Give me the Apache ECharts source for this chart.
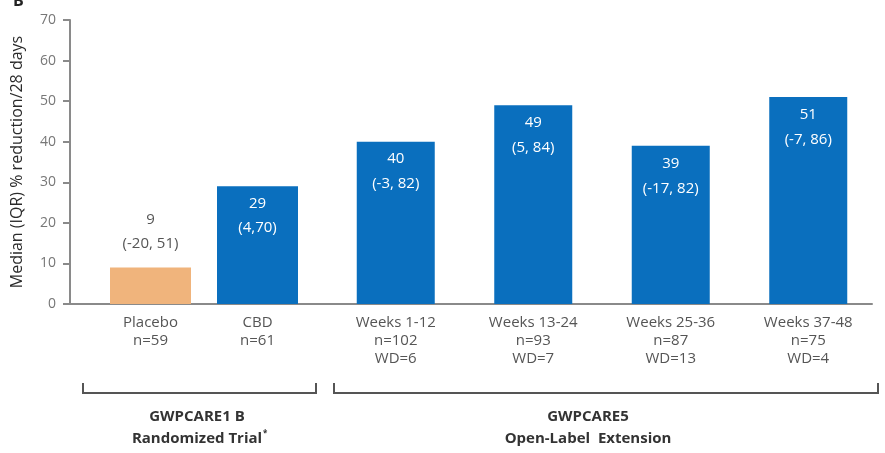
<!DOCTYPE html>
<html>
<head>
<meta charset="utf-8">
<script src="https://cdn.jsdelivr.net/npm/echarts@6/dist/echarts.min.js"></script>
<style>html,body{margin:0;padding:0;background:#fff}#c{width:885px;height:453px}</style>
</head>
<body>
<div id="c"></div>
<script>
// Randomized trial arms
const trialCats = ['Placebo\nn=59', 'CBD\nn=61'];
const trialMedian = [9, 29];
const trialIQR = ['(-20, 51)', '(4,70)'];

// Open-label extension windows
const oleCats = ['Weeks 1-12\nn=102\nWD=6', 'Weeks 13-24\nn=93\nWD=7', 'Weeks 25-36\nn=87\nWD=13', 'Weeks 37-48\nn=75\nWD=4'];
const oleMedian = [40, 49, 39, 51];
const oleIQR = ['(-3, 82)', '(5, 84)', '(-17, 82)', '(-7, 86)'];

const yTicks = [0, 10, 20, 30, 40, 50, 60, 70];

const FONT = '"Open Sans", sans-serif';
const BLUE = '#0A6FBE';
const ORANGE = '#F0B47C';
const AXIS = '#8a8a8a';
const TEXT = '#555';

const chart = echarts.init(document.getElementById('c'));

const hiddenY = i => ({
  type: 'value', gridIndex: i, min: yTicks[0], max: yTicks[yTicks.length - 1], interval: 10,
  show: false, splitLine: { show: false }
});
const catX = (i, cats) => ({
  type: 'category', gridIndex: i, data: cats,
  axisLine: { show: false }, axisTick: { show: false },
  axisLabel: { color: TEXT, fontSize: 15, fontFamily: FONT, lineHeight: 18, margin: 10, interval: 0 }
});

chart.setOption({
  animation: false,
  grid: [
    { left: 70, right: 13, top: 20, bottom: 149 },
    { left: 97, width: 214, top: 20, bottom: 149 },
    { left: 327, width: 550, top: 20, bottom: 149 }
  ],
  xAxis: [
    { type: 'category', gridIndex: 0, data: [''], axisTick: { show: false }, axisLabel: { show: false },
      axisLine: { lineStyle: { color: AXIS, width: 2 } } },
    catX(1, trialCats),
    catX(2, oleCats)
  ],
  yAxis: [
    { type: 'value', gridIndex: 0, min: yTicks[0], max: yTicks[yTicks.length - 1], interval: 10,
      name: 'Median (IQR) % reduction/28 days', nameLocation: 'middle', nameGap: 45,
      nameTextStyle: { color: '#2a2a2a', fontSize: 16, fontFamily: FONT },
      axisLine: { show: true, lineStyle: { color: AXIS, width: 2 } },
      axisTick: { show: true, length: 7, lineStyle: { color: AXIS, width: 2 } },
      axisLabel: { color: '#777', fontSize: 14, fontFamily: FONT, margin: 14 },
      splitLine: { show: false } },
    hiddenY(1),
    hiddenY(2)
  ],
  series: [
    {
      type: 'bar', xAxisIndex: 1, yAxisIndex: 1, barWidth: 81,
      data: trialMedian.map((v, i) => ({
        value: v,
        itemStyle: { color: i === 0 ? ORANGE : BLUE },
        label: i === 0
          ? { show: true, position: 'top', distance: 12, color: TEXT, formatter: v + '\n' + trialIQR[i] }
          : { show: true, position: 'insideTop', distance: 5, color: '#fff', formatter: v + '\n' + trialIQR[i] }
      })),
      label: { fontSize: 15, fontFamily: FONT, lineHeight: 24 }
    },
    {
      type: 'bar', xAxisIndex: 2, yAxisIndex: 2, barWidth: 78,
      itemStyle: { color: BLUE },
      data: oleMedian,
      label: {
        show: true, position: 'insideTop', distance: 5, color: '#fff', fontSize: 15, fontFamily: FONT, lineHeight: 25,
        formatter: p => p.value + '\n' + oleIQR[p.dataIndex]
      }
    }
  ],
  graphic: [
    { type: 'text', left: 13, top: -7, style: { text: 'B', fontSize: 16, fontWeight: 'bold', fontFamily: FONT, fill: '#222' } },
    // study brackets
    { type: 'polyline', shape: { points: [[83, 383], [83, 393], [316, 393], [316, 383]] },
      style: { stroke: '#555', lineWidth: 2, fill: null } },
    { type: 'polyline', shape: { points: [[334, 383], [334, 393], [878, 393], [878, 383]] },
      style: { stroke: '#555', lineWidth: 2, fill: null } },
    { type: 'text', x: 197, y: 417, style: { text: 'GWPCARE1 B', align: 'center', verticalAlign: 'middle',
      fontSize: 15, fontWeight: 'bold', fontFamily: FONT, fill: '#333' } },
    { type: 'text', x: 197, y: 439, style: { text: 'Randomized Trial', align: 'center', verticalAlign: 'middle',
      fontSize: 15, fontWeight: 'bold', fontFamily: FONT, fill: '#333' } },
    { type: 'text', x: 263, y: 434, style: { text: '*', align: 'left', verticalAlign: 'middle',
      fontSize: 8, fontWeight: 'bold', fontFamily: FONT, fill: '#333' } },
    { type: 'text', x: 588, y: 417, style: { text: 'GWPCARE5', align: 'center', verticalAlign: 'middle',
      fontSize: 15, fontWeight: 'bold', fontFamily: FONT, fill: '#333' } },
    { type: 'text', x: 588, y: 439, style: { text: 'Open-Label  Extension', align: 'center', verticalAlign: 'middle',
      fontSize: 15, fontWeight: 'bold', fontFamily: FONT, fill: '#333' } }
  ]
});
</script>
</body>
</html>
